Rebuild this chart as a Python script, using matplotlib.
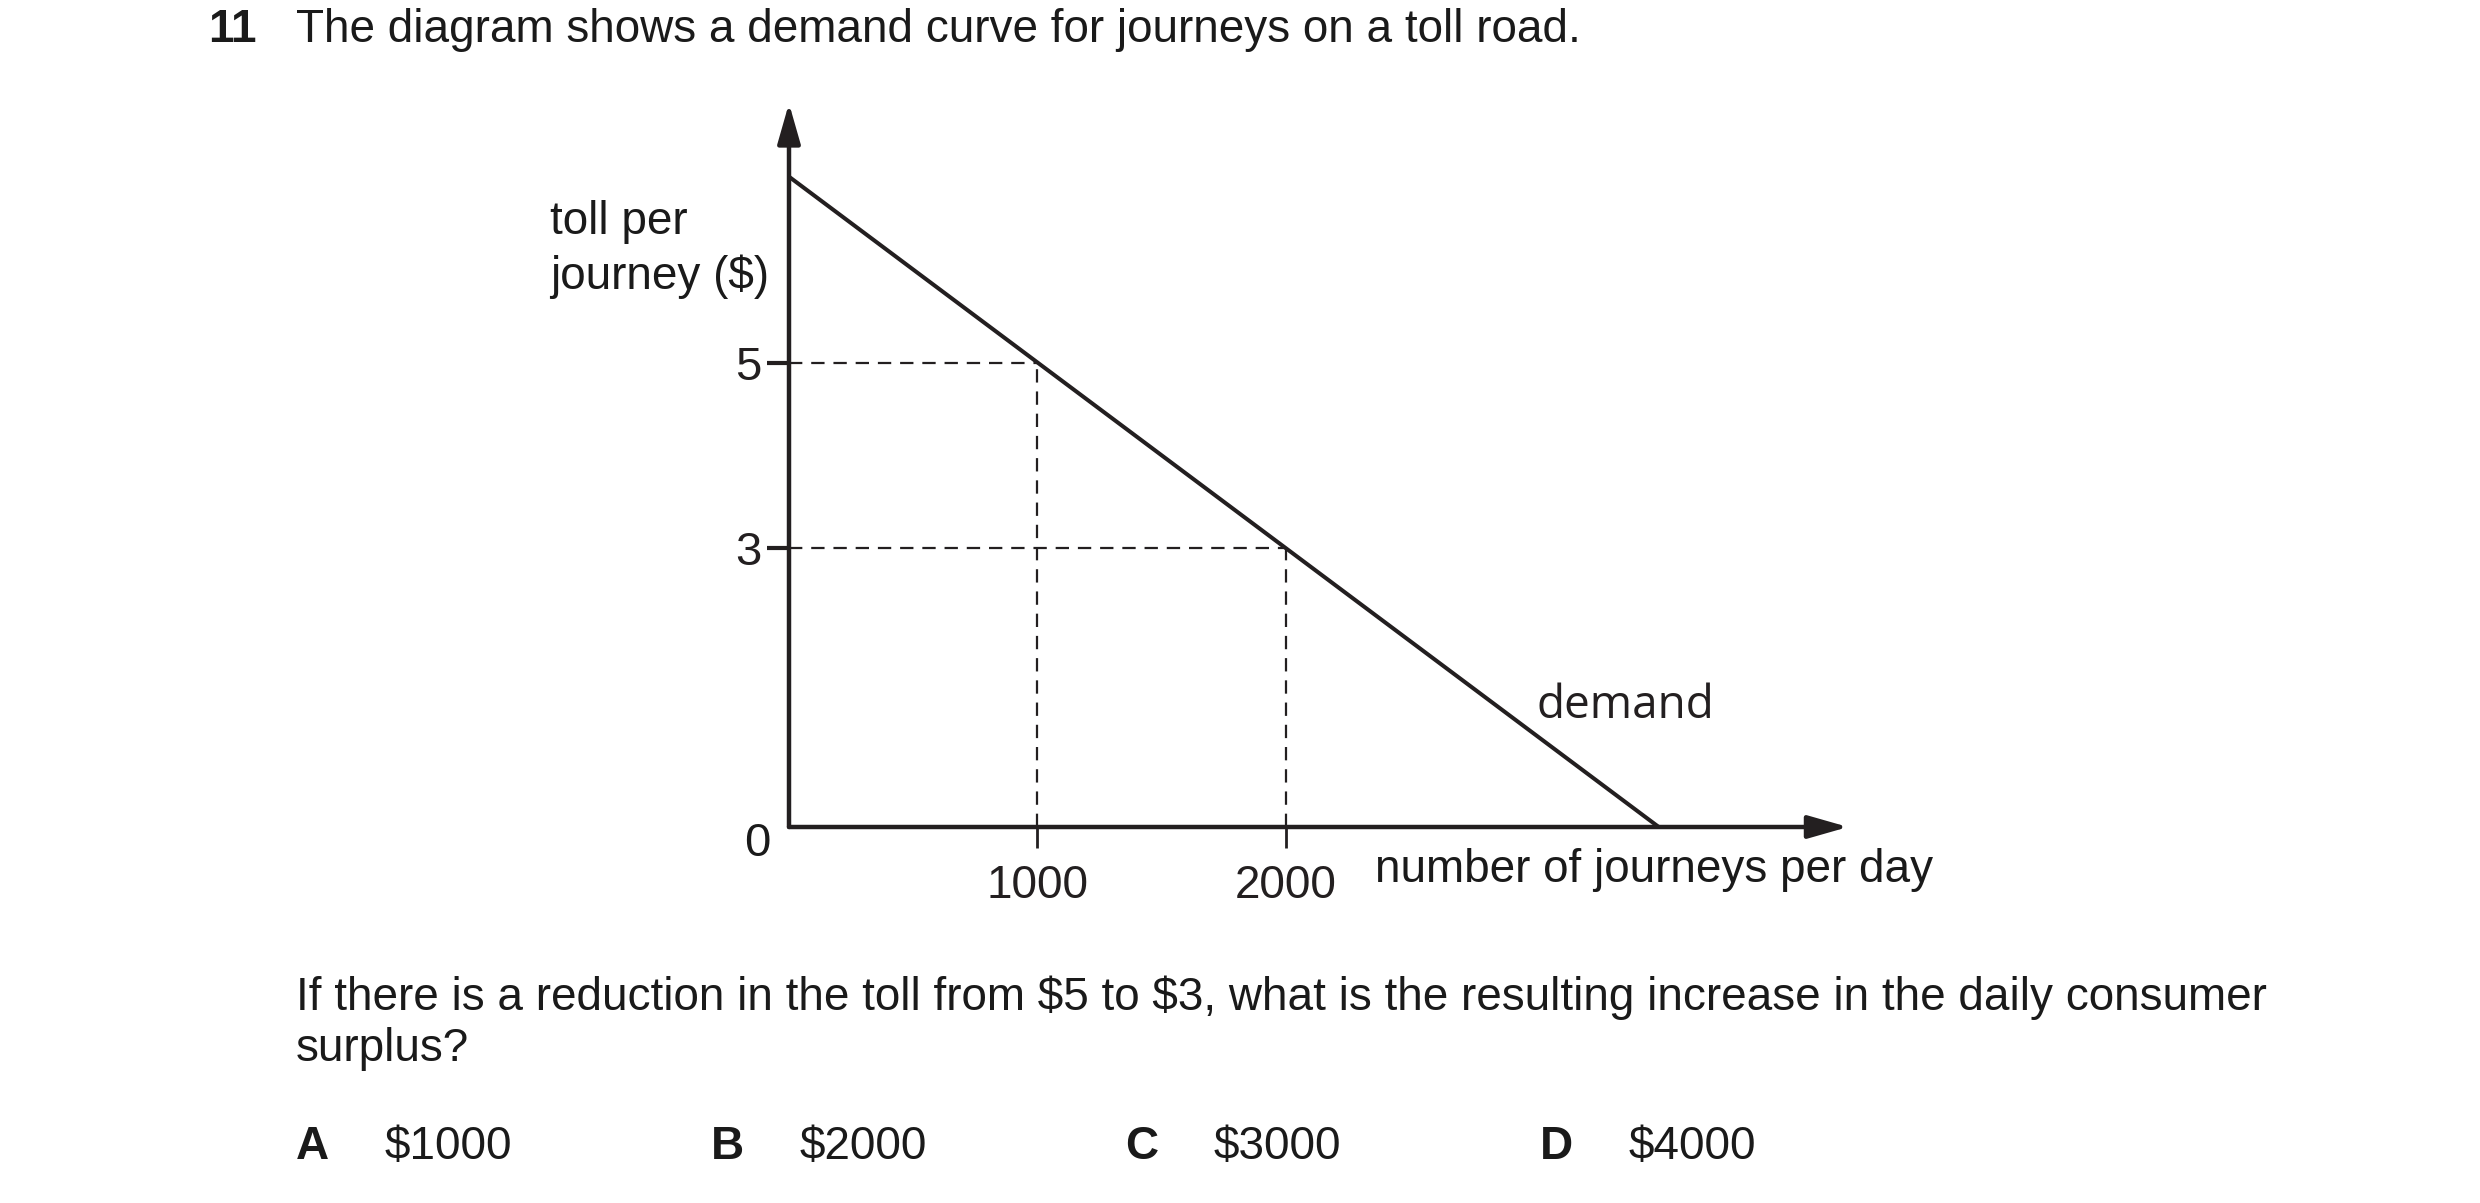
import matplotlib
matplotlib.use("Agg")
import matplotlib.pyplot as plt
import numpy as np

plt.rcParams["text.parse_math"] = False

# demand curve: toll ($) against journeys per day
demand_q = [0, 3500]
demand_p = [7, 0]
marked_q = [1000, 2000]
marked_p = [5, 3]
y_ticks = [3, 5]
x_ticks = [1000, 2000]
x_tick_labels = ["1000", "2000"]

title_num = "11"
title = "The diagram shows a demand curve for journeys on a toll road."
question = ["If there is a reduction in the toll from $5 to $3, what is the resulting increase in the daily consumer",
            "surplus?"]
option_keys = ["A", "B", "C", "D"]
option_vals = ["$1000", "$2000", "$3000", "$4000"]

W, H = 2480, 1203
FONT = ["Liberation Sans", "DejaVu Sans"]
NARROW = ["Liberation Sans Narrow", "Liberation Sans", "DejaVu Sans"]

fig = plt.figure(figsize=(W / 100, H / 100), dpi=100)
fig.patch.set_facecolor("white")


def ftext(xp, yp, s, **kw):
    # place text using pixel coords measured from the top-left
    kw.setdefault("family", FONT)
    kw.setdefault("va", "center")
    kw.setdefault("color", "#1a1a1a")
    fig.text(xp / W, 1 - yp / H, s, **kw)


x_max, y_max = 4262, 7.79
px_per_q = 248.5 / 1000
px_per_p = 92.9
ax = fig.add_axes([789 / W, 376 / H, x_max * px_per_q / W, y_max * px_per_p / H])
ax.set_xlim(0, x_max)
ax.set_ylim(0, y_max)
for sp in ax.spines.values():
    sp.set_visible(False)
ax.patch.set_alpha(0)

ink = "#231f20"
arrow = dict(arrowstyle="-|>,head_length=2.45,head_width=0.7", lw=3.2, color=ink,
             shrinkA=0, shrinkB=0)
ax.annotate("", xy=(x_max, 0), xytext=(0, 0), arrowprops=arrow, annotation_clip=False)
ax.annotate("", xy=(0, y_max), xytext=(0, 0), arrowprops=arrow, annotation_clip=False)

ax.plot(demand_q, demand_p, color=ink, lw=2.9, solid_capstyle="butt", clip_on=False)

for q, p in zip(marked_q, marked_p):
    ax.plot([0, q], [p, p], color=ink, lw=1.6, dashes=(6, 4), clip_on=False)
    ax.plot([q, q], [0, p], color=ink, lw=1.6, dashes=(6, 4), clip_on=False)

ax.set_yticks(y_ticks)
ax.set_yticklabels([str(v) for v in y_ticks])
ax.set_xticks(x_ticks)
ax.set_xticklabels(x_tick_labels)
ax.tick_params(axis="y", direction="out", length=16, width=3, color=ink, pad=4,
               labelsize=34, labelcolor=ink)
ax.tick_params(axis="x", direction="out", length=15, width=2, color=ink, pad=12,
               labelsize=33, labelcolor=ink)
for lab in ax.get_xticklabels() + ax.get_yticklabels():
    lab.set_family(NARROW)

ax.text(3010, 1.30, "demand", family=["Open Sans", "DejaVu Sans"], fontsize=33,
        va="center", ha="left", color=ink)

# labels outside the plot area
ftext(757, 844, "0", fontsize=34, ha="center", family=NARROW)
ftext(550, 222, "toll per", fontsize=33, family=NARROW)
ftext(550, 277, "journey ($)", fontsize=33, family=NARROW)
ftext(1375, 870, "number of journeys per day", fontsize=33, family=NARROW)

ftext(208, 30, title_num, fontsize=33, weight="bold")
ftext(296, 30, title, fontsize=33)
ftext(296, 998, question[0], fontsize=33)
ftext(296, 1049, question[1], fontsize=33)

key_x = [296, 711, 1125, 1540]
for k, v, xk in zip(option_keys, option_vals, key_x):
    ftext(xk, 1147, k, fontsize=33, weight="bold")
    ftext(xk + 89, 1147, v, fontsize=33)

fig.savefig("out.png", dpi=100, facecolor="white")
